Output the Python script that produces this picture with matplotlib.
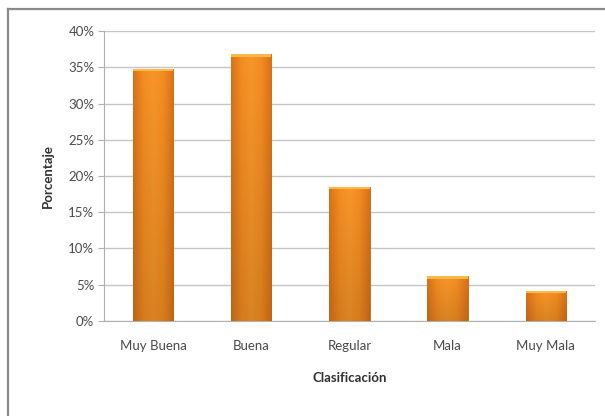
import numpy as np
import matplotlib.pyplot as plt
from matplotlib.lines import Line2D
from matplotlib.colors import LinearSegmentedColormap

categorias = ["Muy Buena", "Buena", "Regular", "Mala", "Muy Mala"]
porcentajes = [34.8, 36.8, 18.5, 6.2, 4.2]
yticks = [0, 5, 10, 15, 20, 25, 30, 35, 40]

plt.rcParams['font.family'] = ['Lato', 'DejaVu Sans']

fig = plt.figure(figsize=(6.05, 4.16), dpi=100)
fig.patch.set_facecolor("white")
ax = fig.add_axes([0.172, 0.2284, 0.811, 0.697])

x = np.arange(len(categorias))
barras = ax.bar(x, porcentajes, width=0.41, color="#f28a1e", zorder=3)

# degradado naranja suave en cada barra
naranja = LinearSegmentedColormap.from_list(
    "naranja", ["#d8721b", "#f38c20", "#f7962a", "#f38c20", "#d8721b"])
h = np.linspace(0, 1, 64)
sombra = np.linspace(0.88, 1.0, 32)[:, None, None]
for b in barras:
    x0, y0 = b.get_x(), b.get_y()
    w, alto = b.get_width(), b.get_height()
    rgb = naranja(np.tile(h, (32, 1)))[..., :3] * sombra
    im = ax.imshow(rgb, extent=[x0, x0 + w, y0, y0 + alto], origin="lower",
                   aspect="auto", zorder=4, interpolation="bilinear")
    im.set_clip_path(b)
    # brillo en la parte superior
    ax.bar(x0 + w / 2, 0.35, bottom=y0 + alto - 0.35, width=w,
           color="#fbb848", zorder=5, linewidth=0)
    b.set_edgecolor("#c06414")
    b.set_linewidth(0.6)

ax.set_xlim(-0.5, len(categorias) - 0.5)
ax.set_ylim(0, 40)
ax.set_yticks(yticks)
ax.set_yticklabels([f"{t}%" for t in yticks])
ax.set_xticks(x)
ax.set_xticklabels(categorias)

ax.grid(axis="y", color="#c6c6c6", linewidth=1.0, zorder=0)
for s in ["top", "right"]:
    ax.spines[s].set_visible(False)
ax.spines["left"].set_color("#b0b0b0")
ax.spines["bottom"].set_color("#b0b0b0")
ax.tick_params(axis="y", length=4, color="#b0b0b0", labelsize=9.5,
               labelcolor="#4a4a4a", pad=3)
ax.tick_params(axis="x", length=0, labelsize=9.5, labelcolor="#4a4a4a", pad=14)

ax.set_ylabel("Porcentaje", fontsize=9.5, fontweight="bold", color="#303030",
              labelpad=10)
ax.set_xlabel("Clasificación", fontsize=9.5, fontweight="bold", color="#303030",
              labelpad=14)

# marco del grafico (solo se ven borde izquierdo y superior)
fig.add_artist(Line2D([0.014, 1.0], [0.979, 0.979], color="#8a8a8a", linewidth=1.6))
fig.add_artist(Line2D([0.014, 0.014], [0.0, 0.979], color="#8a8a8a", linewidth=1.6))

fig.savefig("out.png", dpi=100)
